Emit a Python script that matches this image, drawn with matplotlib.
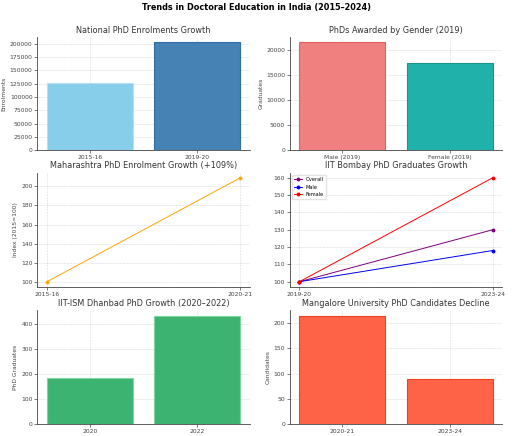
import matplotlib
matplotlib.use("Agg")
import matplotlib.pyplot as plt

# national enrolments
national_years = ["2015-16", "2019-20"]
national_enrol = [126451, 202550]

# PhDs awarded by gender
gender_labels = ["Male (2019)", "Female (2019)"]
gender_awarded = [21500, 17400]

# Maharashtra index
maha_years = ["2015-16", "2020-21"]
maha_index = [100, 209]

# IIT Bombay graduates index
iitb_years = ["2019-20", "2023-24"]
iitb_overall = [100, 130]
iitb_male = [100, 118]
iitb_female = [100, 160]

# IIT-ISM Dhanbad
ism_years = ["2020", "2022"]
ism_grads = [182, 433]

# Mangalore University
mang_years = ["2020-21", "2023-24"]
mang_cands = [215, 90]

plt.rcParams["font.family"] = ["DejaVu Sans"]
TICK = 4.3
TITLE = 5.9
LAB = 4.3


def style(ax, title, ylabel):
    ax.set_title(title, fontsize=TITLE, color="#333333", pad=3)
    ax.set_ylabel(ylabel, fontsize=LAB, color="#444444", labelpad=2)
    ax.tick_params(labelsize=TICK, colors="#444444", length=2, width=0.5, pad=1.5)
    ax.grid(True, linestyle="--", linewidth=0.4, alpha=0.5)
    ax.set_axisbelow(True)
    for s in ["top", "right"]:
        ax.spines[s].set_visible(False)
    for s in ["left", "bottom"]:
        ax.spines[s].set_linewidth(0.6)
        ax.spines[s].set_color("#444444")


fig = plt.figure(figsize=(5.12, 4.36), dpi=100)
fig.suptitle("Trends in Doctoral Education in India (2015–2024)", fontsize=5.9,
             fontweight="bold", y=0.993)

L1, W = 0.073, 0.415
L2 = 0.566
rows = [(0.655, 0.26), (0.342, 0.262), (0.028, 0.26)]

ax1 = fig.add_axes([L1, rows[0][0], W, rows[0][1]])
ax1.bar(national_years, national_enrol, color=["skyblue", "steelblue"],
        edgecolor=["#b5e0f3", "#2f6ea3"], linewidth=0.8)
style(ax1, "National PhD Enrolments Growth", "Enrolments")

ax2 = fig.add_axes([L2, rows[0][0], W, rows[0][1]])
ax2.bar(gender_labels, gender_awarded, color=["lightcoral", "lightseagreen"],
        edgecolor=["#e06060", "#14968f"], linewidth=0.8)
style(ax2, "PhDs Awarded by Gender (2019)", "Graduates")

ax3 = fig.add_axes([L1, rows[1][0], W, rows[1][1]])
ax3.plot(maha_years, maha_index, marker="o", markersize=1.8, color="orange", linewidth=0.7)
style(ax3, "Maharashtra PhD Enrolment Growth (+109%)", "Index (2015=100)")

ax4 = fig.add_axes([L2, rows[1][0], W, rows[1][1]])
ax4.plot(iitb_years, iitb_overall, marker="o", markersize=1.8, color="purple",
         linewidth=0.7, label="Overall")
ax4.plot(iitb_years, iitb_male, marker="o", markersize=1.8, color="blue",
         linewidth=0.7, label="Male")
ax4.plot(iitb_years, iitb_female, marker="o", markersize=1.8, color="red",
         linewidth=0.7, label="Female")
style(ax4, "IIT Bombay PhD Graduates Growth", "")
ax4.legend(fontsize=3.6, loc="upper left", handlelength=1.5, borderpad=0.4,
           labelspacing=0.5, framealpha=0.8, edgecolor="#dddddd")

ax5 = fig.add_axes([L1, rows[2][0], W, rows[2][1]])
ax5.bar(ism_years, ism_grads, color="mediumseagreen", edgecolor="#7ed6a0", linewidth=0.8)
style(ax5, "IIT-ISM Dhanbad PhD Growth (2020–2022)", "PhD Graduates")

ax6 = fig.add_axes([L2, rows[2][0], W, rows[2][1]])
ax6.bar(mang_years, mang_cands, color="tomato", edgecolor="#f04020", linewidth=0.8)
style(ax6, "Mangalore University PhD Candidates Decline", "Candidates")

fig.savefig("out.png", dpi=100)
